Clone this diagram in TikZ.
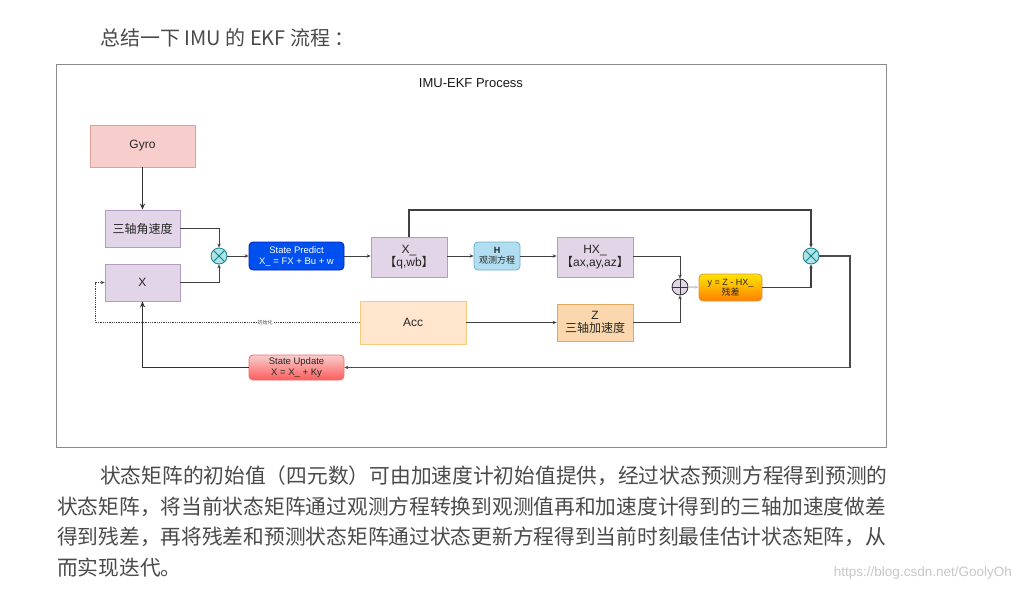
\documentclass[tikz,border=0pt]{standalone}
\usepackage{fontspec}
\setmainfont{Liberation Sans}
\newfontfamily\cjk{Noto Sans CJK SC}
\usetikzlibrary{arrows.meta}
\definecolor{txt}{HTML}{4A4A4A}
\definecolor{pfill}{HTML}{E1D5E7}\definecolor{pdraw}{HTML}{B39BC4}
\definecolor{rfill}{HTML}{F8CECC}\definecolor{rdraw}{HTML}{E0A09E}
\definecolor{bfill}{HTML}{0050EF}\definecolor{bdraw}{HTML}{001DBC}
\definecolor{hfill}{HTML}{B1DDF0}\definecolor{hdraw}{HTML}{6FB0D0}
\definecolor{afill}{HTML}{FFE6CC}\definecolor{adraw}{HTML}{F5CB80}
\definecolor{zfill}{HTML}{FAD7AC}\definecolor{zdraw}{HTML}{E0A860}
\definecolor{tfill}{HTML}{B0E3E6}\definecolor{tdraw}{HTML}{0E8088}
\tikzset{
  box/.style={draw, rectangle, inner sep=1pt, align=center, text=black!85, font=\fontsize{12}{13.5}\selectfont, line width=0.8pt},
  rbox/.style={box, rounded corners=4pt, font=\fontsize{9.5}{11}\selectfont},
  otimesnode/.style={circle, draw=tdraw, fill=tfill, minimum size=16pt, inner sep=0pt, line width=0.8pt,
    path picture={\draw[tdraw, line width=0.8pt] (path picture bounding box.north west) -- (path picture bounding box.south east) (path picture bounding box.south west) -- (path picture bounding box.north east);}},
  oplusnode/.style={circle, draw=black!80, fill=pfill, minimum size=16pt, inner sep=0pt, line width=0.8pt,
    path picture={\draw[black!80, line width=0.8pt] (path picture bounding box.north) -- (path picture bounding box.south) (path picture bounding box.west) -- (path picture bounding box.east);}},
  conn/.style={draw=black!75, line width=0.8pt, -{Stealth[length=4pt,width=3.5pt]}},
  thick conn/.style={draw=black!80, line width=1.4pt, -{Stealth[length=6pt,width=5pt]}},
  para/.style={anchor=west, inner sep=0pt, text=txt, font=\cjk\fontsize{20.72}{22}\selectfont}
}
\begin{document}
\begin{tikzpicture}[x=1pt, y=-1pt]
\useasboundingbox[fill=white] (0,0) rectangle (1020,592);
% heading
\node[para, font=\cjk\fontsize{20}{22}\selectfont] (head) at (100,38) {总结一下 IMU 的 EKF 流程 ：};
% frame
\draw[black!45, line width=0.8pt] (56.5,64.5) rectangle (886.5,447.5);
\node[font=\fontsize{13}{15}\selectfont, text=black!90] (title) at (471,83) {IMU-EKF Process};
% nodes
\node[box, fill=rfill, draw=rdraw, minimum width=105pt, minimum height=42pt] (gyro) at (142.5,146) {Gyro};
\node[box, fill=pfill, draw=pdraw, minimum width=75pt, minimum height=37pt] (w) at (142.5,228.5) {\cjk 三轴角速度};
\node[box, fill=pfill, draw=pdraw, minimum width=75pt, minimum height=37pt] (X) at (142.5,282.5) {X};
\node[otimesnode] (c1) at (219,256) {};
\node[rbox, fill=bfill, draw=bdraw, text=white, minimum width=95pt, minimum height=28pt] (sp) at (296.5,256) {State Predict\\X\_ = FX + Bu + w};
\node[box, fill=pfill, draw=pdraw, minimum width=76pt, minimum height=40pt] (xp) at (409,257) {X\_\\{\cjk 【}q,wb{\cjk 】}};
\node[rbox, fill=hfill, draw=hdraw, minimum width=46pt, minimum height=28pt, font=\fontsize{9}{10.5}\selectfont] (H) at (497,256) {\textbf{H}\\{\cjk 观测方程}};
\node[box, fill=pfill, draw=pdraw, minimum width=76pt, minimum height=40pt] (hx) at (595,257) {HX\_\\{\cjk 【}ax,ay,az{\cjk 】}};
\node[oplusnode] (pl) at (680,287) {};
\node[rbox, top color=yellow!80!orange, bottom color=orange, draw=orange!80!black!70, minimum width=63pt, minimum height=27pt, font=\fontsize{9}{10.5}\selectfont] (yr) at (730.5,287.5) {y = Z - HX\_\\{\cjk 残差}};
\node[otimesnode] (c2) at (811,256) {};
\node[box, fill=afill, draw=adraw, minimum width=106pt, minimum height=43pt] (acc) at (413,322.5) {Acc};
\node[box, fill=zfill, draw=zdraw, minimum width=76pt, minimum height=37pt] (z) at (595,322.5) {Z\\{\cjk 三轴加速度}};
\node[rbox, top color=rfill, bottom color=red!55!rfill, draw=rdraw!70!red, minimum width=95pt, minimum height=25pt] (su) at (296.5,367.5) {State Update\\X = X\_ + Ky};
% helper coordinates
\coordinate (top) at (811,210);
\coordinate (rt) at (850,256);
\coordinate (dl) at (95,322.5);
% connectors
\draw[thick conn, line width=1.2pt] (gyro) -- (w);
\draw[conn] (w.east) -| (c1.north);
\draw[conn] (X.east) -| (c1.south);
\draw[conn] (c1) -- (sp);
\draw[conn] (sp) -- (xp.west |- sp);
\draw[conn] (xp.east |- H) -- (H);
\draw[conn] (H) -- (hx.west |- H);
\draw[conn] (hx.east |- H) -| (pl.north);
\draw[conn] (z.east) -| (pl.south);
\draw[conn, draw=black!20, line width=1.3pt] (pl) -- (yr);
\draw[conn, line width=1.1pt] (yr.east) -| (c2.south);
\draw[conn, line width=1.1pt] (xp.north) |- (top) -- (c2.north);
\draw[conn, line width=1.1pt, draw=black!70] (c2.east) -- (rt) |- (su.east);
\draw[thick conn] (su.west) -| (X.south);
\draw[conn] (acc.east) -- (z.west);
\draw[conn, densely dotted, line width=0.7pt] (acc.west) -- (dl) |- (X.west);
\node[fill=white, inner sep=0.5pt, font=\cjk\fontsize{5}{6}\selectfont, text=black!70] (init) at (265,322.5) {初始化};
% paragraph
\node[para] (l1) at (100,476) {状态矩阵的初始值（四元数）可由加速度计初始值提供，经过状态预测方程得到预测的};
\node[para] (l2) at (57,507) {状态矩阵，将当前状态矩阵通过观测方程转换到观测值再和加速度计得到的三轴加速度做差};
\node[para] (l3) at (57,537) {得到残差，再将残差和预测状态矩阵通过状态更新方程得到当前时刻最佳估计状态矩阵，从};
\node[para] (l4) at (57,568) {而实现迭代。};
\node[anchor=east, inner sep=0pt, text=black!22, font=\fontsize{13.5}{15}\selectfont] (wm) at (1012,573) {https://blog.csdn.net/GoolyOh};
\end{tikzpicture}
\end{document}
